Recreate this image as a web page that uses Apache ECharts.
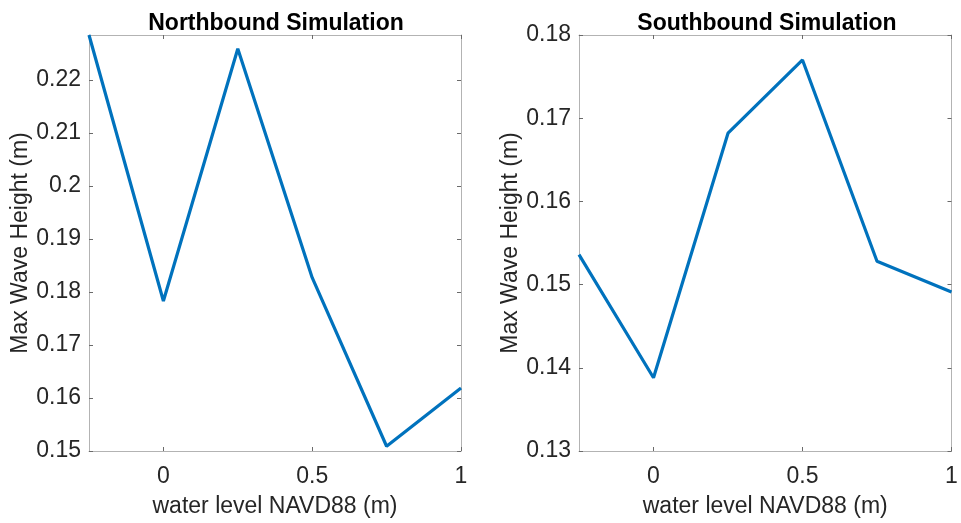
<!DOCTYPE html>
<html>
<head>
<meta charset="utf-8">
<script src="https://cdn.jsdelivr.net/npm/echarts@6/dist/echarts.min.js"></script>
<style>html,body{margin:0;padding:0;background:#fff;}#c{width:961px;height:523px;}</style>
</head>
<body>
<div id="c"></div>
<script>
var waterLevel = [-0.25, 0, 0.25, 0.5, 0.75, 1];
var northbound = [0.2285, 0.1783, 0.2259, 0.1827, 0.1509, 0.1619];
var southbound = [0.1536, 0.1388, 0.1682, 0.1770, 0.1528, 0.1491];
var xTicks = [0, 0.5, 1];
var northTicks = [0.15, 0.16, 0.17, 0.18, 0.19, 0.2, 0.21, 0.22];
var southTicks = [0.13, 0.14, 0.15, 0.16, 0.17, 0.18];
var titles = ['Northbound Simulation', 'Southbound Simulation'];
var xName = 'water level NAVD88 (m)';
var yName = 'Max Wave Height (m)';

var FONT = 'Liberation Sans';
var TXT = '#262626';
var BOX = '#b3b3b3';
var FS = 23;

function pairs(xs, ys) { return xs.map(function (x, i) { return [x, ys[i]]; }); }

var grids = [
  { left: 89, top: 35, width: 372, height: 417 },
  { left: 579, top: 35, width: 372.5, height: 417 }
];

function xAx(gi, pos, main) {
  return {
    type: 'value', gridIndex: gi, position: pos, min: -0.25, max: 1,
    name: main ? xName : '', nameLocation: 'middle', nameGap: 44,
    nameTextStyle: { color: TXT, fontFamily: FONT, fontSize: FS },
    axisLine: { show: true, onZero: false, lineStyle: { color: BOX, width: 1 } },
    axisTick: { show: true, inside: true, length: 4, customValues: xTicks, lineStyle: { color: '#6a6a6a' } },
    axisLabel: { show: main, customValues: xTicks, margin: 14, color: TXT, fontFamily: FONT, fontSize: FS, showMinLabel: true, showMaxLabel: true },
    splitLine: { show: false }
  };
}
function yAx(gi, pos, main, mn, mx, ticks) {
  return {
    type: 'value', gridIndex: gi, position: pos, min: mn, max: mx,
    name: main ? yName : '', nameLocation: 'middle', nameGap: 57,
    nameTextStyle: { color: TXT, fontFamily: FONT, fontSize: FS },
    axisLine: { show: true, onZero: false, lineStyle: { color: BOX, width: 1 } },
    axisTick: { show: true, inside: true, length: 4, customValues: ticks, lineStyle: { color: '#6a6a6a' } },
    axisLabel: { show: main, customValues: ticks, margin: 8, color: TXT, fontFamily: FONT, fontSize: FS, showMinLabel: true, showMaxLabel: true },
    splitLine: { show: false }
  };
}

var option = {
  animation: false,
  backgroundColor: '#ffffff',
  title: [
    { text: titles[0], left: 271, top: 7, textAlign: 'center', textStyle: { color: '#000', fontFamily: FONT, fontSize: FS, fontWeight: 'bold' } },
    { text: titles[1], left: 762, top: 7, textAlign: 'center', textStyle: { color: '#000', fontFamily: FONT, fontSize: FS, fontWeight: 'bold' } }
  ],
  grid: grids,
  xAxis: [xAx(0, 'bottom', true), xAx(0, 'top', false), xAx(1, 'bottom', true), xAx(1, 'top', false)],
  yAxis: [
    yAx(0, 'left', true, 0.15, 0.2285, northTicks), yAx(0, 'right', false, 0.15, 0.2285, northTicks),
    yAx(1, 'left', true, 0.13, 0.18, southTicks), yAx(1, 'right', false, 0.13, 0.18, southTicks)
  ],
  series: [
    { type: 'line', xAxisIndex: 0, yAxisIndex: 0, data: pairs(waterLevel, northbound), showSymbol: false, symbol: 'none', clip: false, lineStyle: { color: '#0072BD', width: 3.2 } },
    { type: 'line', xAxisIndex: 2, yAxisIndex: 2, data: pairs(waterLevel, southbound), showSymbol: false, symbol: 'none', clip: false, lineStyle: { color: '#0072BD', width: 3.2 } }
  ]
};
var chart = echarts.init(document.getElementById('c'), null, { renderer: 'canvas' });
chart.setOption(option);
</script>
</body>
</html>
